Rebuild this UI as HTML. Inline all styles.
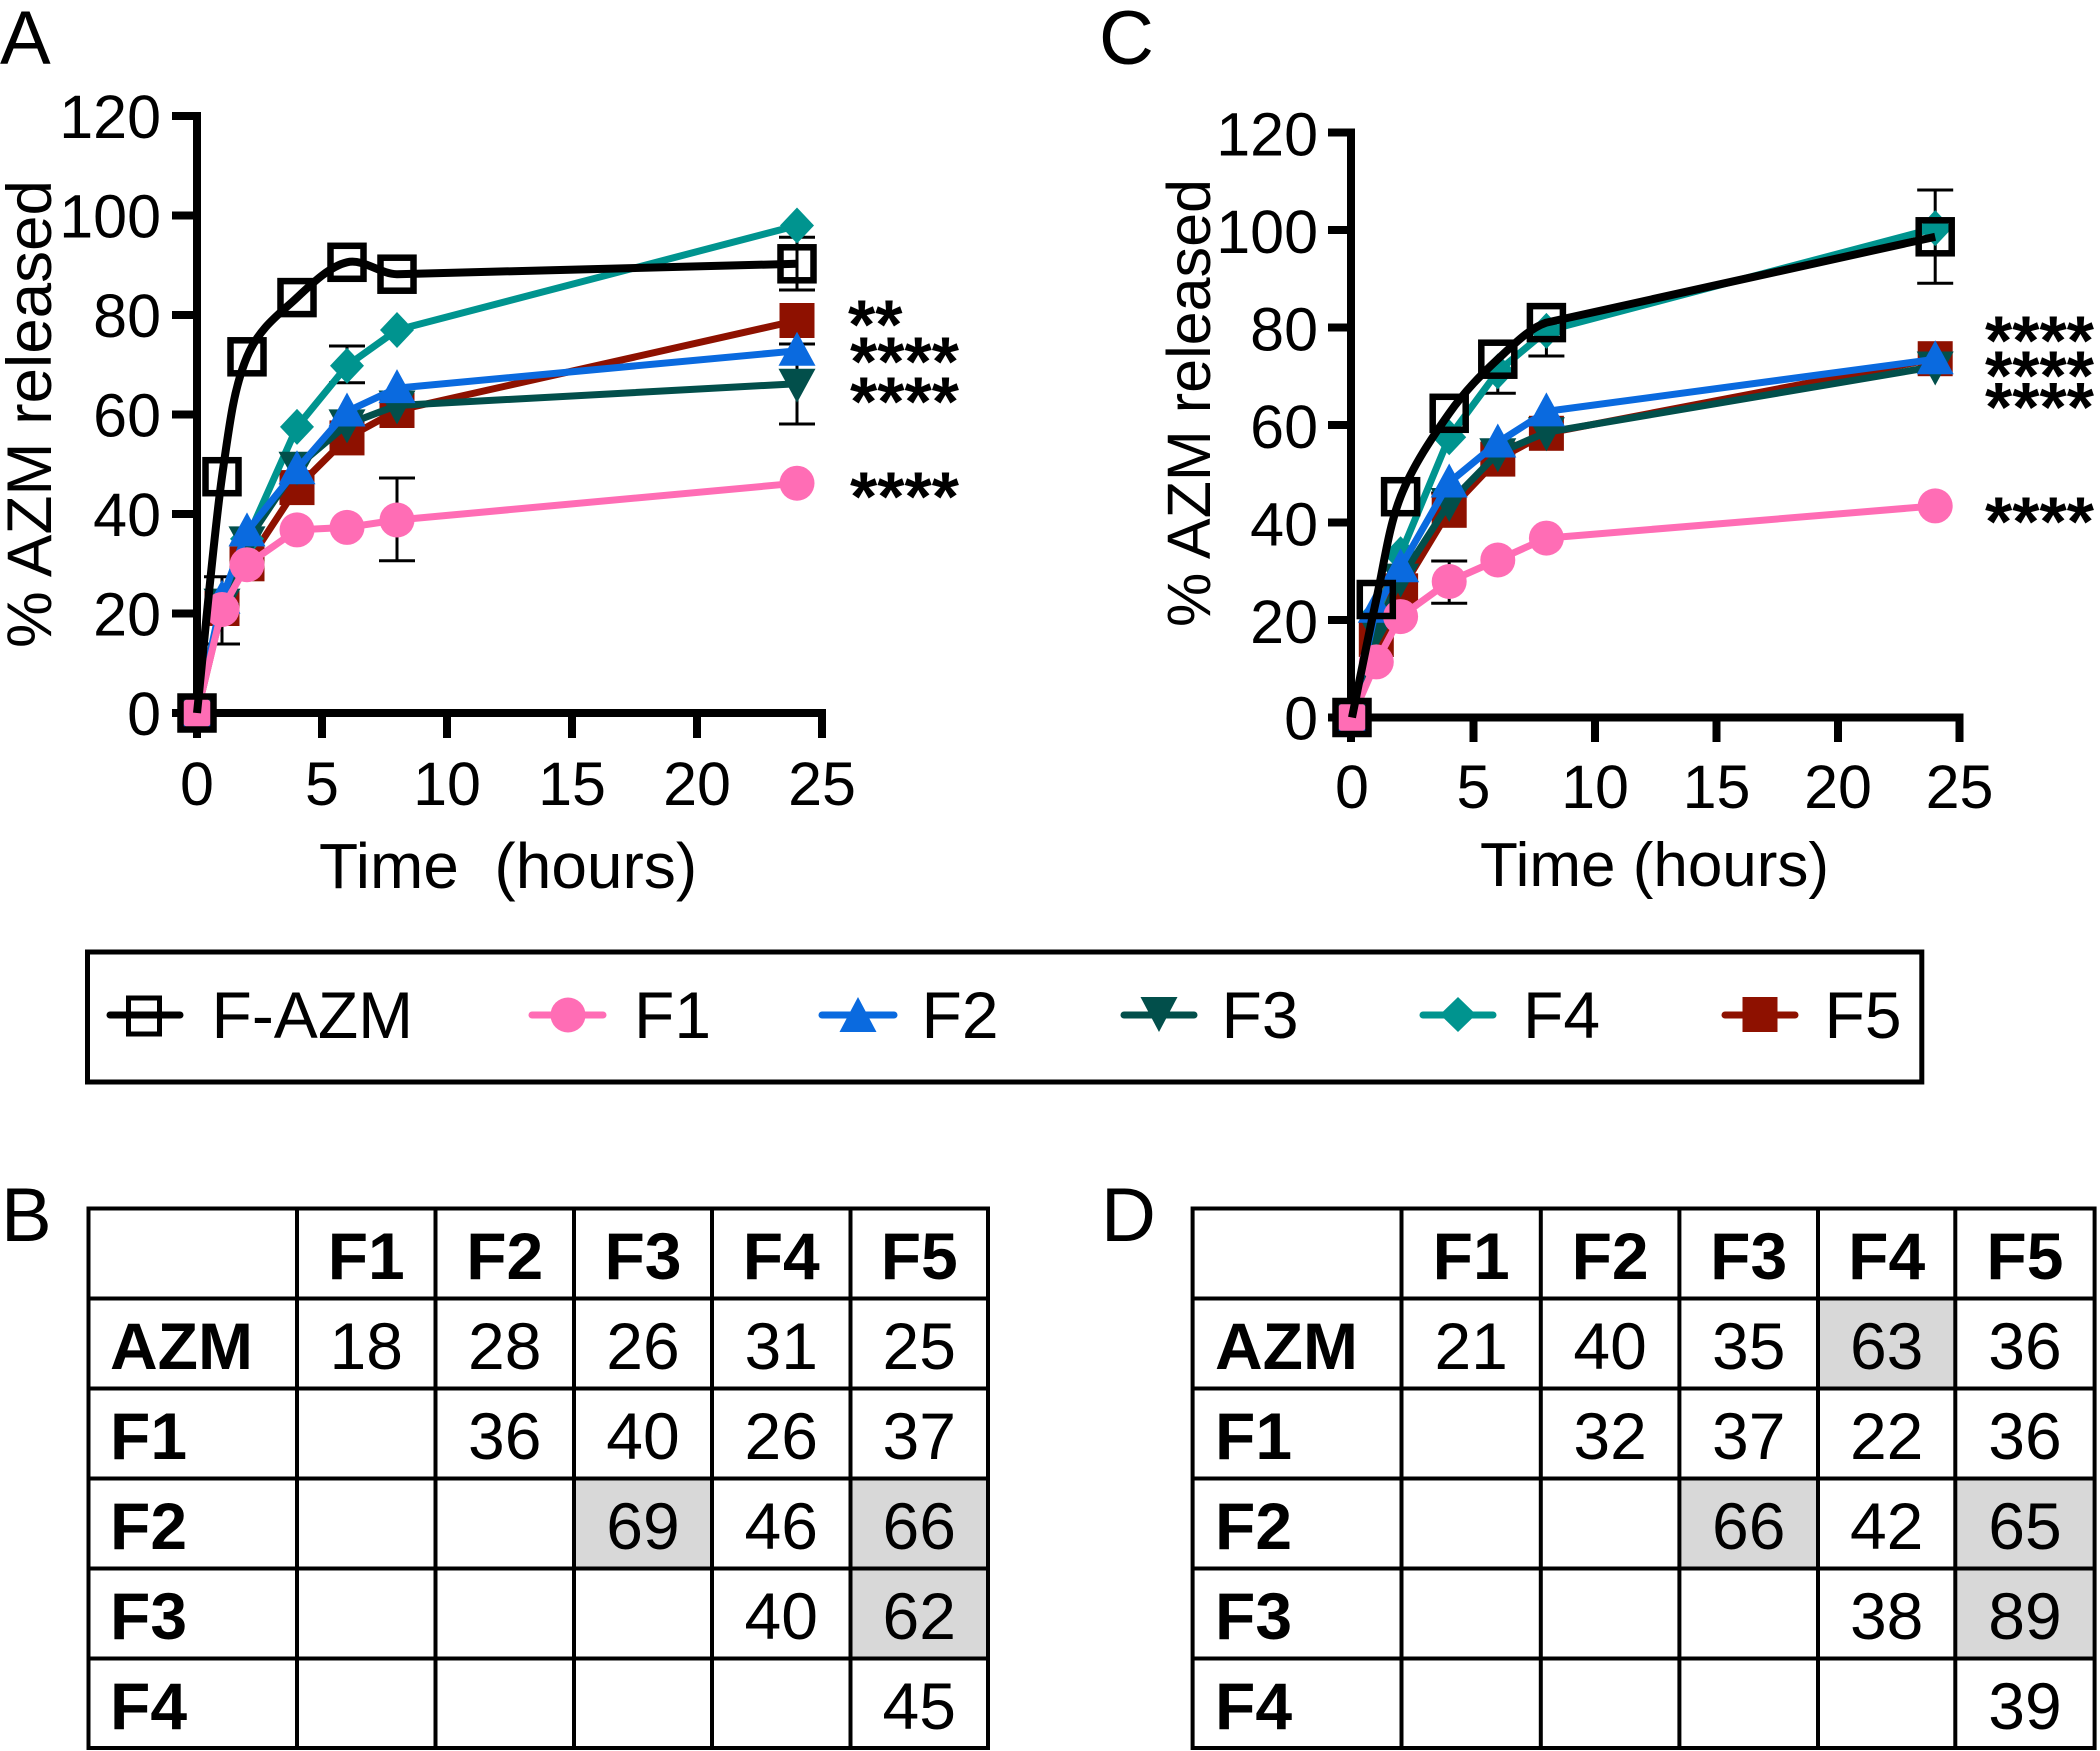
<!DOCTYPE html>
<html><head><meta charset="utf-8">
<style>
html,body{margin:0;padding:0;background:#fff;}
svg{display:block;font-family:"Liberation Sans",Arial,sans-serif;}
</style></head>
<body>
<svg width="2100" height="1751" viewBox="0 0 2100 1751" xmlns="http://www.w3.org/2000/svg">
<defs>
<rect id="sqO" x="-16.5" y="-16.5" width="33" height="33" fill="none" stroke="#000" stroke-width="6.5"/>
<circle id="circ" cx="0" cy="0" r="17.5" fill="#ff6db5"/>
<polygon id="triU" points="0,-19 -18.5,15 18.5,15" fill="#0a6adf"/>
<polygon id="triD" points="0,19 -18.5,-15 18.5,-15" fill="#024f4b"/>
<polygon id="dia" points="0,-18 17,0 0,18 -17,0" fill="#00948f"/>
<rect id="sqF" x="-17.5" y="-17.5" width="35" height="35" fill="#8e1100"/>
</defs>

<!-- Panel letters -->
<text x="0" y="64" font-size="76">A</text>
<text x="1099" y="64" font-size="76">C</text>
<text x="1" y="1241" font-size="76">B</text>
<text x="1101" y="1241" font-size="76">D</text>

<!-- ================= CHART A ================= -->
<g fill="none" stroke="#000" stroke-width="8">
<path d="M172 116H197V713H822V738" stroke-linejoin="miter"/>
<path d="M172 215.5H197M172 315H197M172 414.5H197M172 514H197M172 613.5H197M172 713H197"/>
<path d="M197 713V738M322 713V738M447 713V738M572 713V738M697 713V738"/>
</g>
<g font-size="61" text-anchor="end">
<text x="161" y="137.8">120</text>
<text x="161" y="237.3">100</text>
<text x="161" y="336.8">80</text>
<text x="161" y="436.3">60</text>
<text x="161" y="535.8">40</text>
<text x="161" y="635.3">20</text>
<text x="161" y="734.8">0</text>
</g>
<g font-size="61" text-anchor="middle">
<text x="197" y="805">0</text>
<text x="322" y="805">5</text>
<text x="447" y="805">10</text>
<text x="572" y="805">15</text>
<text x="697" y="805">20</text>
<text x="822" y="805">25</text>
</g>
<text transform="translate(51,414) rotate(-90)" text-anchor="middle" font-size="63" textLength="468" lengthAdjust="spacingAndGlyphs">% AZM released</text>
<text x="319" y="888" font-size="64">Time&#160;&#160;(hours)</text>

<!-- error bars A -->
<g stroke="#000" stroke-width="3" fill="none">
<path d="M222 576.7V644M204 576.7H240M204 644H240"/>
<path d="M347 346V382.7M329 346H365M329 382.7H365"/>
<path d="M397 478V560.7M379 478H415M379 560.7H415"/>
<path d="M797 237.3V290M779 237.3H815M779 290H815"/>
<path d="M797 344V424M779 344H815M779 424H815"/>
</g>

<!-- F5 -->
<polyline points="197,713 222,608.5 247,563.8 297,487.6 347,437.9 397,410.5 797,320.5" fill="none" stroke="#8e1100" stroke-width="7" stroke-linejoin="round"/>
<use href="#sqF" x="197" y="713"/><use href="#sqF" x="222" y="608.5"/><use href="#sqF" x="247" y="563.8"/><use href="#sqF" x="297" y="487.6"/><use href="#sqF" x="347" y="437.9"/><use href="#sqF" x="397" y="410.5"/><use href="#sqF" x="797" y="320.5"/>
<!-- F4 -->
<polyline points="197,713 222,603.6 247,538.9 297,426.9 347,365.7 397,330 797,225.5" fill="none" stroke="#00948f" stroke-width="7" stroke-linejoin="round"/>
<use href="#dia" x="197" y="713"/><use href="#dia" x="222" y="603.6"/><use href="#dia" x="247" y="538.9"/><use href="#dia" x="297" y="426.9"/><use href="#dia" x="347" y="365.7"/><use href="#dia" x="397" y="330"/><use href="#dia" x="797" y="225.5"/>
<!-- F3 -->
<polyline points="197,713 222,603.6 247,541.4 297,466.7 347,424.4 397,405.5 797,383.7" fill="none" stroke="#024f4b" stroke-width="7" stroke-linejoin="round"/>
<use href="#triD" x="197" y="713"/><use href="#triD" x="222" y="603.6"/><use href="#triD" x="247" y="541.4"/><use href="#triD" x="297" y="466.7"/><use href="#triD" x="347" y="424.4"/><use href="#triD" x="397" y="405.5"/><use href="#triD" x="797" y="383.7"/>
<!-- F2 -->
<polyline points="197,713 222,598.6 247,531.4 297,469.2 347,411.5 397,388.1 797,350.8" fill="none" stroke="#0a6adf" stroke-width="7" stroke-linejoin="round"/>
<use href="#triU" x="197" y="713"/><use href="#triU" x="222" y="598.6"/><use href="#triU" x="247" y="531.4"/><use href="#triU" x="297" y="469.2"/><use href="#triU" x="347" y="411.5"/><use href="#triU" x="397" y="388.1"/><use href="#triU" x="797" y="350.8"/>
<!-- F1 -->
<polyline points="197,713 222,609.5 247,564.7 297,529.9 347,527.4 397,520 797,483.2" fill="none" stroke="#ff6db5" stroke-width="7" stroke-linejoin="round"/>
<use href="#circ" x="197" y="713"/><use href="#circ" x="222" y="609.5"/><use href="#circ" x="247" y="564.7"/><use href="#circ" x="297" y="529.9"/><use href="#circ" x="347" y="527.4"/><use href="#circ" x="397" y="520"/><use href="#circ" x="797" y="483.2"/>
<!-- F-AZM -->
<path d="M197 713C201.2 673.6 213.7 536.1 222 476.7C230.3 417.3 234.5 386.7 247 356.8C259.5 327 280.3 313.4 297 297.6C313.7 281.9 330.3 266.2 347 262.3C363.7 258.4 380 274 397 274.2L797 263.8" fill="none" stroke="#000" stroke-width="8" stroke-linejoin="round"/>
<use href="#sqO" x="197" y="713"/><use href="#sqO" x="222" y="476.7"/><use href="#sqO" x="247" y="356.8"/><use href="#sqO" x="297" y="297.6"/><use href="#sqO" x="347" y="262.3"/><use href="#sqO" x="397" y="274.2"/><use href="#sqO" x="797" y="263.8"/>

<g font-size="70" font-weight="bold">
<text x="848" y="348.5">**</text>
<text x="850" y="385.5">****</text>
<text x="850" y="425.5">****</text>
<text x="850" y="520.5">****</text>
</g>

<!-- ================= CHART C ================= -->
<g fill="none" stroke="#000" stroke-width="8">
<path d="M1328 132.5H1351V717.5H1959.5V742" stroke-linejoin="miter"/>
<path d="M1328 230H1351M1328 327.5H1351M1328 425H1351M1328 522.5H1351M1328 620H1351M1328 717.5H1351"/>
<path d="M1351 717.5V742M1473.5 717.5V742M1595 717.5V742M1716.5 717.5V742M1838 717.5V742"/>
</g>
<g font-size="61" text-anchor="end">
<text x="1318" y="155.5">120</text>
<text x="1318" y="253">100</text>
<text x="1318" y="350.5">80</text>
<text x="1318" y="448">60</text>
<text x="1318" y="545.5">40</text>
<text x="1318" y="643">20</text>
<text x="1318" y="739.5">0</text>
</g>
<g font-size="61" text-anchor="middle">
<text x="1352" y="808">0</text>
<text x="1473.5" y="808">5</text>
<text x="1595" y="808">10</text>
<text x="1716.5" y="808">15</text>
<text x="1838" y="808">20</text>
<text x="1959.5" y="808">25</text>
</g>
<text transform="translate(1210,403) rotate(-90)" text-anchor="middle" font-size="61" textLength="448" lengthAdjust="spacingAndGlyphs">% AZM released</text>
<text x="1480" y="886" font-size="62">Time (hours)</text>

<!-- error bars C -->
<g stroke="#000" stroke-width="3" fill="none">
<path d="M1449.2 561V603.3M1431.2 561H1467.2M1431.2 603.3H1467.2"/>
<path d="M1449.2 482.5V493M1431.2 493H1467.2"/>
<path d="M1497.8 371.4V393.3M1479.8 393.3H1515.8"/>
<path d="M1546.4 330.9V356M1528.4 356H1564.4"/>
<path d="M1935.2 190V283.3M1917.2 190H1953.2M1917.2 283.3H1953.2"/>
</g>

<!-- F5 -->
<polyline points="1352,717.5 1376.3,639.5 1400.6,590.8 1449.2,510.3 1497.8,459.1 1546.4,433.3 1935.2,358.7" fill="none" stroke="#8e1100" stroke-width="7" stroke-linejoin="round"/>
<use href="#sqF" x="1352" y="717.5"/><use href="#sqF" x="1376.3" y="639.5"/><use href="#sqF" x="1400.6" y="590.8"/><use href="#sqF" x="1449.2" y="510.3"/><use href="#sqF" x="1497.8" y="459.1"/><use href="#sqF" x="1546.4" y="433.3"/><use href="#sqF" x="1935.2" y="358.7"/>
<!-- F4 -->
<polyline points="1352,717.5 1376.3,615.1 1400.6,554.2 1449.2,437.2 1497.8,371.4 1546.4,330.9 1935.2,228.1" fill="none" stroke="#00948f" stroke-width="7" stroke-linejoin="round"/>
<use href="#dia" x="1352" y="717.5"/><use href="#dia" x="1376.3" y="615.1"/><use href="#dia" x="1400.6" y="554.2"/><use href="#dia" x="1449.2" y="437.2"/><use href="#dia" x="1497.8" y="371.4"/><use href="#dia" x="1546.4" y="330.9"/><use href="#dia" x="1935.2" y="228.1"/>
<!-- F3 -->
<polyline points="1352,717.5 1376.3,629.8 1400.6,578.6 1449.2,503 1497.8,453.3 1546.4,432.3 1935.2,366.5" fill="none" stroke="#024f4b" stroke-width="7" stroke-linejoin="round"/>
<use href="#triD" x="1352" y="717.5"/><use href="#triD" x="1376.3" y="629.8"/><use href="#triD" x="1400.6" y="578.6"/><use href="#triD" x="1449.2" y="503"/><use href="#triD" x="1497.8" y="453.3"/><use href="#triD" x="1546.4" y="432.3"/><use href="#triD" x="1935.2" y="366.5"/>
<!-- F2 -->
<polyline points="1352,717.5 1376.3,607.8 1400.6,567.3 1449.2,482.5 1497.8,442.5 1546.4,411.4 1935.2,359.2" fill="none" stroke="#0a6adf" stroke-width="7" stroke-linejoin="round"/>
<use href="#triU" x="1352" y="717.5"/><use href="#triU" x="1376.3" y="607.8"/><use href="#triU" x="1400.6" y="567.3"/><use href="#triU" x="1449.2" y="482.5"/><use href="#triU" x="1497.8" y="442.5"/><use href="#triU" x="1546.4" y="411.4"/><use href="#triU" x="1935.2" y="359.2"/>
<!-- F1 -->
<polyline points="1352,717.5 1376.3,661.9 1400.6,616.6 1449.2,581.5 1497.8,560 1546.4,538.1 1935.2,505.9" fill="none" stroke="#ff6db5" stroke-width="7" stroke-linejoin="round"/>
<use href="#circ" x="1352" y="717.5"/><use href="#circ" x="1376.3" y="661.9"/><use href="#circ" x="1400.6" y="616.6"/><use href="#circ" x="1449.2" y="581.5"/><use href="#circ" x="1497.8" y="560"/><use href="#circ" x="1546.4" y="538.1"/><use href="#circ" x="1935.2" y="505.9"/>
<!-- F-AZM -->
<path d="M1352 717.5C1356.05 697.8 1368.2 636.3 1376.3 599.5C1384.4 562.7 1388.45 527.7 1400.6 496.7C1412.75 465.7 1433 436.2 1449.2 413.3C1465.4 390.4 1481.6 374.3 1497.8 359.2C1514 344.1 1530 328 1546.4 322.6L1935.2 236.8" fill="none" stroke="#000" stroke-width="8" stroke-linejoin="round"/>
<use href="#sqO" x="1352" y="717.5"/><use href="#sqO" x="1376.3" y="599.5"/><use href="#sqO" x="1400.6" y="496.7"/><use href="#sqO" x="1449.2" y="413.3"/><use href="#sqO" x="1497.8" y="359.2"/><use href="#sqO" x="1546.4" y="322.6"/><use href="#sqO" x="1935.2" y="236.8"/>

<g font-size="70" font-weight="bold">
<text x="1985" y="364.5">****</text>
<text x="1985" y="399.5">****</text>
<text x="1985" y="431">****</text>
<text x="1985" y="545.5">****</text>
</g>

<!-- ================= LEGEND ================= -->
<rect x="87.5" y="952" width="1834.3" height="130" fill="none" stroke="#000" stroke-width="5"/>
<g stroke-width="7" stroke-linecap="round" fill="none">
<path d="M110 1015H180" stroke="#000"/>
<path d="M532 1015H603" stroke="#ff6db5"/>
<path d="M822 1015H894" stroke="#0a6adf"/>
<path d="M1124 1015H1194" stroke="#024f4b"/>
<path d="M1423 1015H1493" stroke="#00948f"/>
<path d="M1725 1015H1795" stroke="#8e1100"/>
</g>
<rect x="128.5" y="998" width="31" height="36" fill="none" stroke="#000" stroke-width="5"/>
<circle cx="568" cy="1015" r="17.5" fill="#ff6db5"/>
<polygon points="858,997 839.5,1032 876.5,1032" fill="#0a6adf"/>
<polygon points="1159,1032 1140.5,997 1177.5,997" fill="#024f4b"/>
<polygon points="1458,997 1476,1014.5 1458,1032 1440,1014.5" fill="#00948f"/>
<rect x="1742.5" y="997" width="35" height="35" fill="#8e1100"/>
<g font-size="66">
<text x="211.5" y="1038">F-AZM</text>
<text x="634" y="1038">F1</text>
<text x="921.5" y="1038">F2</text>
<text x="1221.5" y="1038">F3</text>
<text x="1523" y="1038">F4</text>
<text x="1824.5" y="1038">F5</text>
</g>

<!-- ================= TABLE B ================= -->
<g fill="#d8d8d8">
<rect x="574" y="1478.5" width="138" height="90"/>
<rect x="850.5" y="1478.5" width="137.5" height="90"/>
<rect x="850.5" y="1568.5" width="137.5" height="90"/>
</g>
<g stroke="#000" stroke-width="4" fill="none">
<rect x="88.5" y="1208.5" width="899.5" height="539.5"/>
<path d="M297 1208.5V1748M435.5 1208.5V1748M574 1208.5V1748M712 1208.5V1748M850.5 1208.5V1748"/>
<path d="M88.5 1298.5H988M88.5 1388.5H988M88.5 1478.5H988M88.5 1568.5H988M88.5 1658.5H988"/>
</g>
<g font-size="66" font-weight="bold">
<text x="110" y="1369">AZM</text>
<text x="110" y="1459">F1</text>
<text x="110" y="1549">F2</text>
<text x="110" y="1639">F3</text>
<text x="110" y="1729">F4</text>
</g>
<g font-size="66" font-weight="bold" text-anchor="middle">
<text x="366.25" y="1279">F1</text>
<text x="504.75" y="1279">F2</text>
<text x="643" y="1279">F3</text>
<text x="781.25" y="1279">F4</text>
<text x="919.25" y="1279">F5</text>
</g>
<g font-size="66" text-anchor="middle">
<text x="366.25" y="1369">18</text>
<text x="504.75" y="1369">28</text>
<text x="643" y="1369">26</text>
<text x="781.25" y="1369">31</text>
<text x="919.25" y="1369">25</text>
<text x="504.75" y="1459">36</text>
<text x="643" y="1459">40</text>
<text x="781.25" y="1459">26</text>
<text x="919.25" y="1459">37</text>
<text x="643" y="1549">69</text>
<text x="781.25" y="1549">46</text>
<text x="919.25" y="1549">66</text>
<text x="781.25" y="1639">40</text>
<text x="919.25" y="1639">62</text>
<text x="919.25" y="1729">45</text>
</g>

<!-- ================= TABLE D ================= -->
<g fill="#d8d8d8">
<rect x="1818" y="1298.5" width="137.3" height="90"/>
<rect x="1679.4" y="1478.5" width="138.6" height="90"/>
<rect x="1955.3" y="1478.5" width="139.3" height="90"/>
<rect x="1955.3" y="1568.5" width="139.3" height="90"/>
</g>
<g stroke="#000" stroke-width="4" fill="none">
<rect x="1192.6" y="1208.5" width="902" height="539.5"/>
<path d="M1401.5 1208.5V1748M1540.8 1208.5V1748M1679.4 1208.5V1748M1818 1208.5V1748M1955.3 1208.5V1748"/>
<path d="M1192.6 1298.5H2094.6M1192.6 1388.5H2094.6M1192.6 1478.5H2094.6M1192.6 1568.5H2094.6M1192.6 1658.5H2094.6"/>
</g>
<g font-size="66" font-weight="bold">
<text x="1215" y="1369">AZM</text>
<text x="1215" y="1459">F1</text>
<text x="1215" y="1549">F2</text>
<text x="1215" y="1639">F3</text>
<text x="1215" y="1729">F4</text>
</g>
<g font-size="66" font-weight="bold" text-anchor="middle">
<text x="1471.15" y="1279">F1</text>
<text x="1610.1" y="1279">F2</text>
<text x="1748.7" y="1279">F3</text>
<text x="1886.65" y="1279">F4</text>
<text x="2024.95" y="1279">F5</text>
</g>
<g font-size="66" text-anchor="middle">
<text x="1471.15" y="1369">21</text>
<text x="1610.1" y="1369">40</text>
<text x="1748.7" y="1369">35</text>
<text x="1886.65" y="1369">63</text>
<text x="2024.95" y="1369">36</text>
<text x="1610.1" y="1459">32</text>
<text x="1748.7" y="1459">37</text>
<text x="1886.65" y="1459">22</text>
<text x="2024.95" y="1459">36</text>
<text x="1748.7" y="1549">66</text>
<text x="1886.65" y="1549">42</text>
<text x="2024.95" y="1549">65</text>
<text x="1886.65" y="1639">38</text>
<text x="2024.95" y="1639">89</text>
<text x="2024.95" y="1729">39</text>
</g>
</svg>
</body></html>
